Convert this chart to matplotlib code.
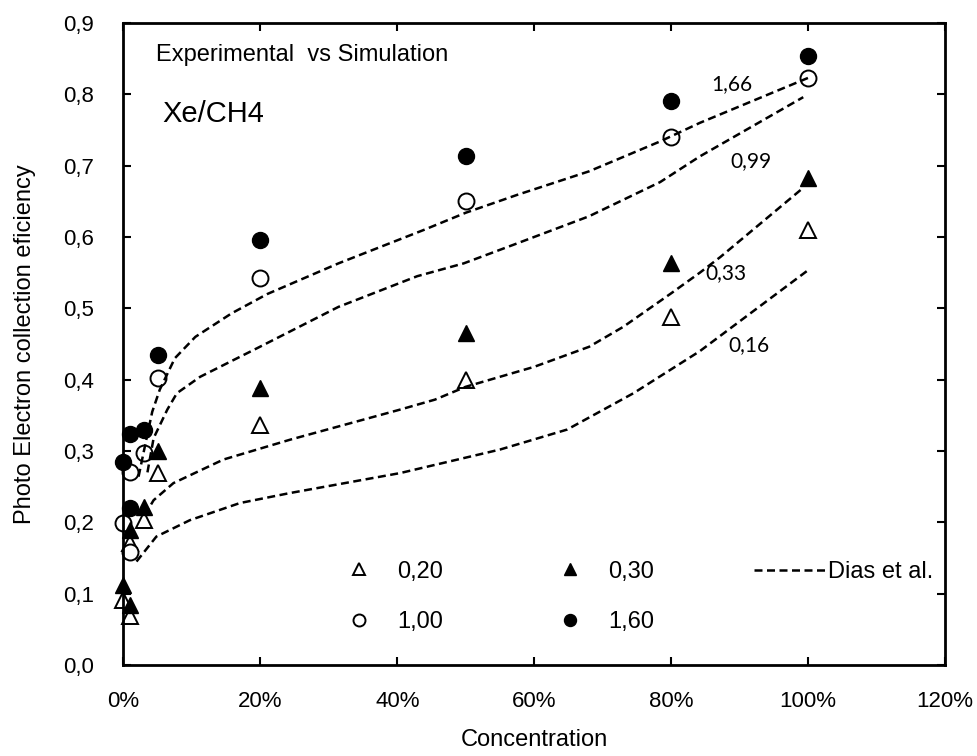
import matplotlib
matplotlib.use("Agg")
import matplotlib.pyplot as plt
from matplotlib.ticker import FuncFormatter, MultipleLocator

plt.rcParams["font.family"] = ["Liberation Sans", "DejaVu Sans"]

# measured efficiency vs CH4 concentration (%) for four reduced fields
conc = [0, 1, 1, 3, 5, 20, 50, 80, 100]
eff_020 = [0.091, 0.171, 0.068, 0.203, 0.269, 0.337, 0.399, 0.488, 0.610]
eff_030 = [0.112, 0.189, 0.084, 0.222, 0.300, 0.388, 0.466, 0.564, 0.683]
eff_100 = [0.199, 0.271, 0.159, 0.297, 0.402, 0.543, 0.650, 0.740, 0.823]
eff_160 = [0.285, 0.324, 0.220, 0.330, 0.435, 0.596, 0.714, 0.790, 0.854]

# Dias et al. simulation curves
sim_166_x = [2.2, 3.2, 4.2, 5.3, 7.5, 10.5, 15.8, 21, 31.4, 43.9, 50, 57.5, 68, 78.4, 84.2, 100]
sim_166_y = [0.264, 0.310, 0.355, 0.386, 0.430, 0.460, 0.493, 0.520, 0.563, 0.610, 0.634, 0.659, 0.692, 0.734, 0.760, 0.823]
sim_099_x = [3.5, 4.4, 6.4, 7.8, 11.2, 19.5, 31.4, 42.9, 49.7, 57.5, 68, 78.4, 84.2, 99.3]
sim_099_y = [0.270, 0.318, 0.358, 0.381, 0.404, 0.444, 0.502, 0.545, 0.563, 0.591, 0.629, 0.677, 0.713, 0.796]
sim_033_x = [3.1, 4.4, 7.3, 14.6, 24.4, 40.4, 45.5, 50, 60, 68, 73, 80, 84.2, 87.2, 99.3]
sim_033_y = [0.210, 0.231, 0.255, 0.288, 0.316, 0.358, 0.372, 0.390, 0.418, 0.446, 0.474, 0.521, 0.550, 0.572, 0.669]
sim_016_x = [1.9, 4.8, 9.7, 17, 24.3, 40.4, 55, 64.8, 74.5, 84.2, 99.8]
sim_016_y = [0.145, 0.180, 0.203, 0.227, 0.241, 0.269, 0.302, 0.330, 0.381, 0.440, 0.552]

sim_labels = ["1,66", "0,99", "0,33", "0,16"]
sim_label_pos = [(88.9, 0.815), (91.7, 0.707), (88.0, 0.549), (91.3, 0.449)]

fig = plt.figure(figsize=(9.77, 7.56), dpi=100)
ax = fig.add_axes([0.1264, 0.1204, 0.8408, 0.8492])

ms = 11.5
h020, = ax.plot(conc, eff_020, "^", ms=ms, mfc="white", mec="black", mew=1.4, ls="none", label="0,20", clip_on=False)
h100, = ax.plot(conc, eff_100, "o", ms=ms, mfc="white", mec="black", mew=1.4, ls="none", label="1,00", clip_on=False)
h030, = ax.plot(conc, eff_030, "^", ms=ms, mfc="black", mec="black", ls="none", label="0,30", clip_on=False)
h160, = ax.plot(conc, eff_160, "o", ms=ms, mfc="black", mec="black", ls="none", label="1,60", clip_on=False)

dash = dict(color="black", lw=1.8, dashes=(3.2, 1.8))
hsim, = ax.plot(sim_166_x, sim_166_y, label="Dias et al.", **dash)
ax.plot(sim_099_x, sim_099_y, **dash)
ax.plot(sim_033_x, sim_033_y, **dash)
ax.plot(sim_016_x, sim_016_y, **dash)

for txt, (x, y) in zip(sim_labels, sim_label_pos):
    ax.text(x, y, txt, fontsize=15, family="Lato", ha="center", va="center")

ax.text(0.0396, 0.950, "Experimental  vs Simulation", transform=ax.transAxes,
        fontsize=17, va="center", ha="left")
ax.text(0.047, 0.858, "Xe/CH4", transform=ax.transAxes, fontsize=21, va="center", ha="left")

ax.set_xlim(0, 120)
ax.set_ylim(0, 0.9)
ax.xaxis.set_major_locator(MultipleLocator(20))
ax.yaxis.set_major_locator(MultipleLocator(0.1))
ax.xaxis.set_major_formatter(FuncFormatter(lambda v, p: f"{v:.0f}%"))
ax.yaxis.set_major_formatter(FuncFormatter(lambda v, p: f"{v:.1f}".replace(".", ",")))

ax.tick_params(direction="in", length=6, width=1.5, labelsize=16, top=True, right=True)
ax.tick_params(axis="x", pad=19)
ax.tick_params(axis="y", pad=21)
for s in ax.spines.values():
    s.set_linewidth(2)

ax.set_xlabel("Concentration", fontsize=17, labelpad=12)
ax.set_ylabel("Photo Electron collection eficiency", fontsize=17, labelpad=20)

# marker legend (two columns) and the simulation legend on the right
leg1 = ax.legend(handles=[h020, h100, h030, h160], ncol=2, loc="center left",
                 bbox_to_anchor=(0.340, 0.2103), bbox_transform=fig.transFigure,
                 frameon=False, fontsize=17, markerscale=0.75, borderpad=0,
                 handlelength=1.27, handletextpad=0.97, columnspacing=4.75, labelspacing=1.22)
ax.add_artist(leg1)
ax.legend(handles=[hsim], loc="center left", bbox_to_anchor=(0.7595, 0.2434),
          bbox_transform=fig.transFigure, frameon=False, fontsize=17, borderpad=0,
          handlelength=3.0, handletextpad=0.15)

fig.savefig("out.png", dpi=100)
